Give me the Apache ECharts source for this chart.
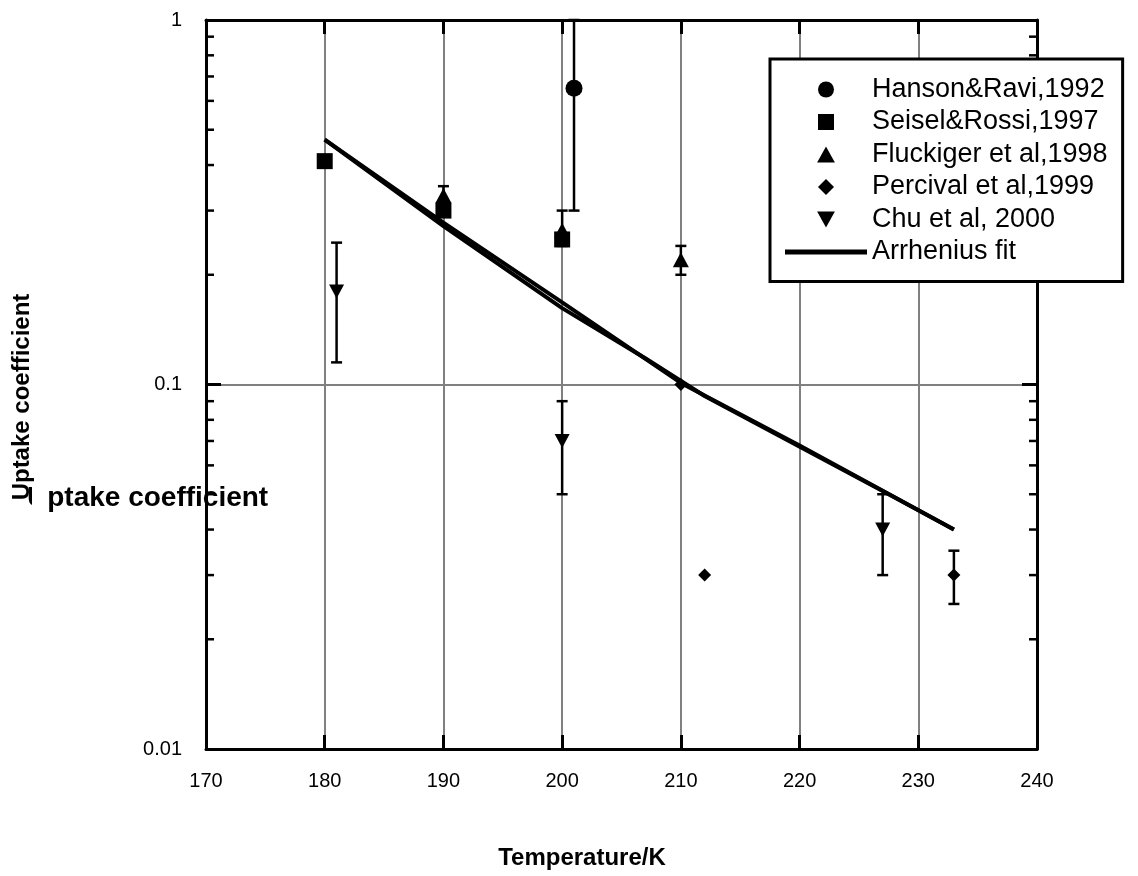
<!DOCTYPE html>
<html>
<head>
<meta charset="utf-8">
<script src="https://cdn.jsdelivr.net/npm/echarts@6/dist/echarts.min.js"></script>
<style>
  html, body { margin: 0; padding: 0; background: #fff; }
  #chart { width: 1138px; height: 876px; }
</style>
</head>
<body>
<div id="chart"></div>
<script>
// measured values [T/K, gamma] and error bars [T, low, high]
const hansonData = [[201, 0.65]];
const hansonErr = [[201, 0.30, 1.0]];
const seiselData = [[180, 0.41], [190, 0.30], [200, 0.25]];
const fluckigerData = [[190, 0.33], [200, 0.265], [210, 0.22]];
const fluckigerErr = [[190, 0.31, 0.35], [200, 0.24, 0.30], [210, 0.20, 0.24]];
const percivalData = [[210, 0.10], [212, 0.030], [233, 0.030]];
const percivalErr = [[233, 0.025, 0.035]];
const chuData = [[181, 0.18], [200, 0.07], [227, 0.04]];
const chuErr = [[181, 0.115, 0.245], [200, 0.05, 0.09], [227, 0.03, 0.05]];
// the fit is drawn twice in the original (two almost overlapping traces)
const fitA = [[180, 0.47], [190, 0.272], [200, 0.162], [207, 0.118], [212, 0.093], [227, 0.051], [233, 0.040]];
const fitB = [[180, 0.47], [190, 0.278], [200, 0.168], [210, 0.101], [220, 0.068], [233, 0.040]];
// minor tick positions on the log axis
const minorTicks = [0.02, 0.03, 0.04, 0.05, 0.06, 0.07, 0.08, 0.09, 0.2, 0.3, 0.4, 0.5, 0.6, 0.7, 0.8, 0.9];

const FONT = "'Liberation Sans', Arial, sans-serif";
const SQUARE = 'path://M0,0H10V10H0Z';
const TRI_UP = 'path://M5,0L10,9H0Z';
const TRI_DOWN = 'path://M0,0L10,0L5,9Z';
const DIAMOND = 'path://M5,0L10,5L5,10L0,5Z';
const chart = echarts.init(document.getElementById('chart'));

function errorBar(params, api) {
  const x = api.value(0);
  const lo = api.coord([x, api.value(1)]);
  const hi = api.coord([x, api.value(2)]);
  const w = 5.5;
  const st = { stroke: '#000', lineWidth: 2.5 };
  return {
    type: 'group',
    children: [
      { type: 'line', shape: { x1: lo[0], y1: lo[1], x2: hi[0], y2: hi[1] }, style: st },
      { type: 'line', shape: { x1: lo[0] - w, y1: lo[1], x2: lo[0] + w, y2: lo[1] }, style: st },
      { type: 'line', shape: { x1: hi[0] - w, y1: hi[1], x2: hi[0] + w, y2: hi[1] }, style: st }
    ]
  };
}

function minorTick(params, api) {
  const v = api.value(1);
  const l = api.coord([170, v]);
  const r = api.coord([240, v]);
  const st = { stroke: '#000', lineWidth: 2.5 };
  return {
    type: 'group',
    children: [
      { type: 'line', shape: { x1: l[0], y1: l[1], x2: l[0] + 8, y2: l[1] }, style: st },
      { type: 'line', shape: { x1: r[0] - 8, y1: r[1], x2: r[0], y2: r[1] }, style: st }
    ]
  };
}

const option = {
  backgroundColor: '#fff',
  animation: false,
  textStyle: { fontFamily: FONT },
  grid: { left: 206, right: 101, top: 20, bottom: 127, containLabel: false },
  legend: {
    orient: 'vertical',
    left: 770,
    top: 59,
    padding: [17, 15, 16, 15],
    itemGap: 5.5,
    itemWidth: 82,
    itemHeight: 16,
    symbolKeepAspect: true,
    backgroundColor: '#fff',
    borderColor: '#000',
    borderWidth: 3,
    borderRadius: 0,
    textStyle: { fontFamily: FONT, fontSize: 27, color: '#000' },
    data: [
      { name: 'Hanson&Ravi,1992', icon: 'circle' },
      { name: 'Seisel&Rossi,1997', icon: SQUARE },
      { name: 'Fluckiger et al,1998', icon: TRI_UP },
      { name: 'Percival et al,1999', icon: DIAMOND },
      { name: 'Chu et al, 2000', icon: TRI_DOWN },
      { name: 'Arrhenius fit', icon: 'path://M0,0H82V5H0Z' }
    ]
  },
  xAxis: [
    {
      type: 'value', min: 170, max: 240, interval: 10,
      axisLine: { lineStyle: { color: '#000', width: 3 } },
      axisTick: { inside: true, length: 14, lineStyle: { color: '#000', width: 3 } },
      axisLabel: { color: '#000', fontSize: 20, margin: 22, fontFamily: FONT },
      splitLine: { show: true, lineStyle: { color: '#808080', width: 2 } }
    },
    {
      type: 'value', position: 'top', min: 170, max: 240, interval: 10,
      axisLine: { lineStyle: { color: '#000', width: 3 } },
      axisTick: { inside: true, length: 14, lineStyle: { color: '#000', width: 3 } },
      axisLabel: { show: false },
      splitLine: { show: false }
    }
  ],
  yAxis: [
    {
      type: 'log', logBase: 10, min: 0.01, max: 1,
      axisLine: { show: true, lineStyle: { color: '#000', width: 3 } },
      axisTick: { show: true, inside: true, length: 15, lineStyle: { color: '#000', width: 3 } },
      axisLabel: { color: '#000', fontSize: 20, margin: 24, fontFamily: FONT },
      splitLine: { show: true, lineStyle: { color: '#808080', width: 2 } }
    },
    {
      type: 'log', logBase: 10, min: 0.01, max: 1, position: 'right',
      axisLine: { show: true, lineStyle: { color: '#000', width: 3 } },
      axisTick: { show: true, inside: true, length: 15, lineStyle: { color: '#000', width: 3 } },
      axisLabel: { show: false },
      splitLine: { show: false }
    }
  ],
  graphic: [
    {
      type: 'text', left: 27, top: 484, z: 10,
      style: { text: 'Uptake coefficient', font: 'bold 28px ' + FONT, fill: '#000' }
    },
    {
      type: 'rect', shape: { x: 32, y: 480, width: 14, height: 36 }, z: 11,
      style: { fill: '#fff' }
    },
    {
      type: 'text', x: 22, y: 397, rotation: Math.PI / 2, z: 12,
      style: { text: 'Uptake coefficient', font: 'bold 24px ' + FONT, fill: '#000',
               align: 'center', verticalAlign: 'middle' }
    },
    {
      type: 'text', x: 582, y: 858, z: 10,
      style: { text: 'Temperature/K', font: 'bold 24px ' + FONT, fill: '#000',
               align: 'center', verticalAlign: 'middle' }
    }
  ],
  series: [
    { type: 'custom', name: 'minor', renderItem: minorTick, clip: false, silent: true,
      data: minorTicks.map(v => [170, v]), z: 3 },
    { type: 'custom', name: 'hansonErr', renderItem: errorBar, data: hansonErr, silent: true, z: 4 },
    { type: 'custom', name: 'fluckigerErr', renderItem: errorBar, data: fluckigerErr, silent: true, z: 4 },
    { type: 'custom', name: 'percivalErr', renderItem: errorBar, data: percivalErr, silent: true, z: 4 },
    { type: 'custom', name: 'chuErr', renderItem: errorBar, data: chuErr, silent: true, z: 4 },
    { type: 'scatter', name: 'Hanson&Ravi,1992', symbol: 'circle', symbolSize: 17,
      itemStyle: { color: '#000', opacity: 1 }, data: hansonData, z: 5 },
    { type: 'scatter', name: 'Seisel&Rossi,1997', symbol: SQUARE, symbolSize: 16,
      itemStyle: { color: '#000', opacity: 1 }, data: seiselData, z: 5 },
    { type: 'scatter', name: 'Fluckiger et al,1998', symbol: TRI_UP, symbolSize: [16, 15],
      itemStyle: { color: '#000', opacity: 1 }, data: fluckigerData, z: 5 },
    { type: 'scatter', name: 'Percival et al,1999', symbol: DIAMOND, symbolSize: 13,
      itemStyle: { color: '#000', opacity: 1 }, data: percivalData, z: 5 },
    { type: 'scatter', name: 'Chu et al, 2000', symbol: TRI_DOWN, symbolSize: [15, 14],
      itemStyle: { color: '#000', opacity: 1 }, data: chuData, z: 5 },
    { type: 'line', name: 'Arrhenius fit', data: fitA, symbol: 'none', showSymbol: false,
      lineStyle: { color: '#000', width: 4 }, itemStyle: { color: '#000' }, z: 6 },
    { type: 'line', name: 'Arrhenius fit', data: fitB, symbol: 'none', showSymbol: false,
      lineStyle: { color: '#000', width: 4 }, itemStyle: { color: '#000' }, z: 6 }
  ]
};

chart.setOption(option);
</script>
</body>
</html>
